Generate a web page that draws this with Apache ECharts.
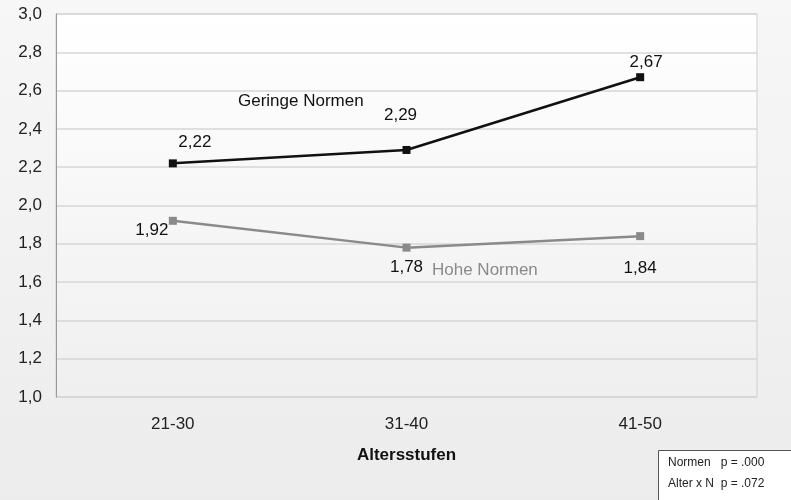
<!DOCTYPE html>
<html>
<head>
<meta charset="utf-8">
<script src="https://cdn.jsdelivr.net/npm/echarts@6/dist/echarts.min.js"></script>
<style>
  html, body { margin: 0; padding: 0; background: #f2f2f2; }
  #chart { width: 791px; height: 500px; }
</style>
</head>
<body>
<div id="chart"></div>
<script>
const categories = ['21-30', '31-40', '41-50']
const geringe = [2.22, 2.29, 2.67]
const hohe = [1.92, 1.78, 1.84]
const yTicks = [1.0, 1.2, 1.4, 1.6, 1.8, 2.0, 2.2, 2.4, 2.6, 2.8, 3.0]

// label offsets from each point (px)
const geringeOff = [[22, -21], [-6, -35], [6, -15]]
const hoheOff = [[-21, 9], [0, 20], [0, 32]]

const fmt = v => v.toFixed(2).replace('.', ',')
const font = 'Liberation Sans, Arial, sans-serif'

function items(vals, offs, color) {
  return vals.map((v, i) => ({
    value: v,
    label: { show: true, position: 'inside', offset: offs[i], formatter: fmt(v), color, fontSize: 17, fontFamily: font }
  }))
}

const chart = echarts.init(document.getElementById('chart'))
chart.setOption({
  backgroundColor: new echarts.graphic.LinearGradient(0, 0, 0, 1, [
    { offset: 0, color: '#f7f7f7' }, { offset: 1, color: '#ececec' }
  ]),
  animation: false,
  grid: {
    left: 56, right: 34, top: 14, bottom: 103, show: true,
    borderWidth: 1, borderColor: '#cfcfcf',
    backgroundColor: new echarts.graphic.LinearGradient(0, 0, 0, 1, [
      { offset: 0, color: '#ffffff' }, { offset: 1, color: '#efefef' }
    ])
  },
  xAxis: {
    type: 'category', data: categories, boundaryGap: true,
    axisLine: { show: false }, axisTick: { show: false },
    axisLabel: { color: '#222', fontSize: 17, fontFamily: font, margin: 19 },
    name: 'Altersstufen', nameLocation: 'middle', nameGap: 50,
    nameTextStyle: { color: '#111', fontSize: 17, fontWeight: 'bold', fontFamily: font }
  },
  yAxis: {
    type: 'value', min: 1.0, max: 3.0, interval: 0.2,
    axisLine: { show: true, lineStyle: { color: '#999' } }, axisTick: { show: false },
    axisLabel: { color: '#222', fontSize: 17, fontFamily: font, margin: 14,
      formatter: v => v.toFixed(1).replace('.', ',') },
    splitLine: { lineStyle: { color: '#d6d6d6', width: 1.5 } }
  },
  series: [
    {
      name: 'Geringe Normen', type: 'line', data: items(geringe, geringeOff, '#111'),
      symbol: 'rect', symbolSize: 8,
      lineStyle: { color: '#111', width: 2.5 }, itemStyle: { color: '#111' }
    },
    {
      name: 'Hohe Normen', type: 'line', data: items(hohe, hoheOff, '#111'),
      symbol: 'rect', symbolSize: 8,
      lineStyle: { color: '#8a8a8a', width: 2.5 }, itemStyle: { color: '#8a8a8a' }
    }
  ],
  graphic: [
    { type: 'text', left: 238, top: 93, style: { text: 'Geringe Normen', fill: '#111', font: '17px ' + font } },
    { type: 'text', left: 432, top: 262, style: { text: 'Hohe Normen', fill: '#8a8a8a', font: '17px ' + font } },
    { type: 'rect', shape: { x: 658.5, y: 450.5, width: 140, height: 52 },
      style: { fill: '#fff', stroke: '#555', lineWidth: 1 } },
    { type: 'text', left: 668, top: 457, style: { text: 'Normen   p = .000', fill: '#222', font: '12px ' + font } },
    { type: 'text', left: 668, top: 478, style: { text: 'Alter x N  p = .072', fill: '#222', font: '12px ' + font } }
  ]
})
</script>
</body>
</html>
